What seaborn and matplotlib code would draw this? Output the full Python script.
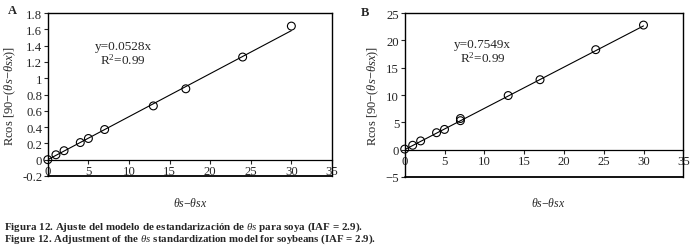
import numpy as np
import matplotlib
matplotlib.use("Agg")
import matplotlib.pyplot as plt
import seaborn as sns
import pandas as pd

sns.set_style("white")
plt.rcParams['font.family'] = ['Liberation Serif', 'DejaVu Serif']
plt.rcParams['mathtext.fontset'] = 'custom'
plt.rcParams['mathtext.it'] = 'Liberation Serif:italic'
plt.rcParams['mathtext.rm'] = 'Liberation Serif'

# panel A data
x_a = [0, 1, 2, 4, 5, 7, 13, 17, 24, 30]
y_a = [0.0, 0.06, 0.11, 0.21, 0.26, 0.37, 0.66, 0.87, 1.26, 1.64]
slope_a = 0.0528

# panel B data
x_b = [0, 1, 2, 4, 5, 7, 7, 13, 17, 24, 30]
y_b = [0.1, 0.8, 1.6, 3.1, 3.7, 5.3, 5.7, 9.9, 12.8, 18.3, 22.8]
slope_b = 0.7549

fit_x = [0, 30]

fig = plt.figure(figsize=(6.93, 2.51), dpi=100)
ax_a = fig.add_axes([0.069, 0.295, 0.41, 0.649])
ax_b = fig.add_axes([0.584, 0.291, 0.402, 0.653])

panels = [
    (ax_a, x_a, y_a, slope_a, (-0.2, 1.8), np.arange(-0.2, 1.81, 0.2), "A",
     "y=0.0528x", (0.265, 0.755)),
    (ax_b, x_b, y_b, slope_b, (-5, 25), np.arange(-5, 26, 5), "B",
     "y=0.7549x", (0.28, 0.765)),
]

for ax, xs, ys, slope, ylim, yticks, tag, eq, txtpos in panels:
    df = pd.DataFrame({"x": xs, "y": ys})
    fit = pd.DataFrame({"x": fit_x, "y": [slope * v for v in fit_x]})
    sns.lineplot(data=fit, x="x", y="y", ax=ax, color="black", linewidth=0.8)
    sns.scatterplot(data=df, x="x", y="y", ax=ax, marker="o", s=32,
                    facecolor="none", edgecolor="black", linewidth=0.8,
                    zorder=3, clip_on=False)
    ax.set_xlim(0, 35)
    ax.set_ylim(*ylim)
    ax.set_xticks(range(0, 36, 5))
    ax.set_yticks(yticks)
    if tag == "A":
        ax.set_yticklabels([("%.1f" % v).rstrip('0').rstrip('.') if abs(v) > 1e-9 else "0"
                            for v in yticks])
    ax.spines['bottom'].set_position(('data', 0))
    ax.axhline(ylim[0], color="black", linewidth=1.3, clip_on=False)
    for s in ax.spines.values():
        s.set_color("black")
        s.set_linewidth(1.0)
    ax.spines['bottom'].set_linewidth(0.9)
    ax.tick_params(axis="both", labelsize=9.2, length=3, direction="out",
                   left=True, bottom=True, pad=1)
    ax.set_xlabel("")
    ax.set_ylabel(r"Rcos [90$-$($\theta s$$-$$\theta sx$)]", fontsize=9, labelpad=3)
    ax.text(txtpos[0], txtpos[1], eq + "\nR$^2$=0.99", transform=ax.transAxes,
            ha="center", va="center", fontsize=9.5, linespacing=1.0)

fig.text(0.012, 0.955, "A", fontsize=9, fontweight="bold", va="center")
fig.text(0.521, 0.95, "B", fontsize=9, fontweight="bold", va="center")
fig.text(0.274, 0.191, r"$\theta s$$-$$\theta sx$", fontsize=8.5, ha="center", va="center")
fig.text(0.791, 0.191, r"$\theta s$$-$$\theta sx$", fontsize=8.5, ha="center", va="center")

fig.text(0.006, 0.096, r"Figura 12. Ajuste del modelo de estandarización de $\theta s$ para soya (IAF = 2.9).",
         fontsize=7.9, fontweight="bold", va="center")
fig.text(0.006, 0.048, r"Figure 12. Adjustment of the $\theta s$ standardization model for soybeans (IAF = 2.9).",
         fontsize=7.8, fontweight="bold", va="center")

fig.savefig("out.png", dpi=100)
